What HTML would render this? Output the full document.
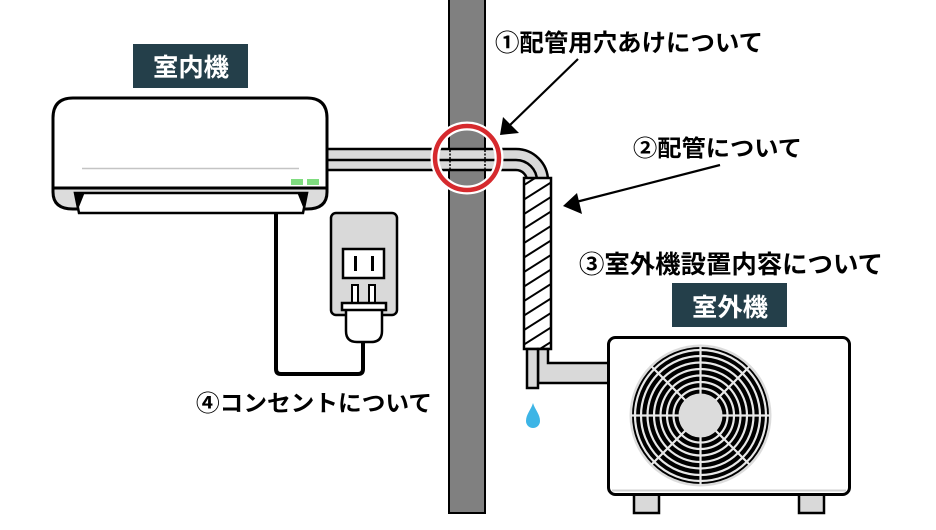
<!DOCTYPE html>
<html><head><meta charset="utf-8"><style>
html,body{margin:0;padding:0;background:#fff;width:936px;height:530px;overflow:hidden}
svg{display:block}
text{font-family:"Liberation Sans","Noto Sans CJK JP",sans-serif}
</style></head><body>
<svg width="936" height="530" viewBox="0 0 936 530" xmlns="http://www.w3.org/2000/svg">
<defs>
<clipPath id="ins"><rect x="524" y="178" width="27" height="171"/></clipPath>
</defs>
<rect width="936" height="530" fill="#fff"/>

<!-- wall -->
<rect x="449" y="-3" width="36" height="516" fill="#808080" stroke="#000" stroke-width="2"/>

<!-- pipes from indoor unit -->
<path d="M320,149 L516,149 A32,32 0 0 1 548,181 L548,185 L527,185 L527,181 A11,11 0 0 0 516,170 L320,170 Z" fill="#d9d9d9"/>
<path d="M320,149 L516,149 A32,32 0 0 1 548,181 L548,185" fill="none" stroke="#000" stroke-width="2.5"/>
<path d="M320,160 L516,160 A21,21 0 0 1 537,181 L537,185" fill="none" stroke="#000" stroke-width="2.5"/>
<path d="M320,170 L516,170 A11,11 0 0 1 527,181 L527,185" fill="none" stroke="#000" stroke-width="2.5"/>
<line x1="450" y1="150" x2="450" y2="169" stroke="#000" stroke-width="1.5" stroke-dasharray="2,1.5"/>
<line x1="485" y1="150" x2="485" y2="169" stroke="#000" stroke-width="1.5" stroke-dasharray="2,1.5"/>

<!-- red circle -->
<circle cx="467" cy="158" r="32" fill="none" stroke="#fff" stroke-width="9"/>
<circle cx="467" cy="158" r="32" fill="none" stroke="#d62a2e" stroke-width="4.5"/>

<!-- insulation -->
<rect x="524" y="178" width="27" height="171" fill="#fff"/>
<g clip-path="url(#ins)" stroke="#000" stroke-width="2">
<line x1="524" y1="185" x2="551" y2="168"/>
<line x1="524" y1="199.5" x2="551" y2="182.5"/>
<line x1="524" y1="214" x2="551" y2="197"/>
<line x1="524" y1="228.5" x2="551" y2="211.5"/>
<line x1="524" y1="243" x2="551" y2="226"/>
<line x1="524" y1="257.5" x2="551" y2="240.5"/>
<line x1="524" y1="272" x2="551" y2="255"/>
<line x1="524" y1="286.5" x2="551" y2="269.5"/>
<line x1="524" y1="301" x2="551" y2="284"/>
<line x1="524" y1="315.5" x2="551" y2="298.5"/>
<line x1="524" y1="330" x2="551" y2="313"/>
<line x1="524" y1="344.5" x2="551" y2="327.5"/>
<line x1="524" y1="359" x2="551" y2="342"/>
</g>
<rect x="524" y="178" width="27" height="171" fill="none" stroke="#000" stroke-width="2.5"/>

<!-- lower pipes -->
<path d="M538,349 L548,349 L548,363 L610,363 L610,383 L538,383 Z" fill="#d9d9d9" stroke="#000" stroke-width="2.5"/>
<rect x="527" y="349" width="11" height="39" fill="#d9d9d9" stroke="#000" stroke-width="2.5"/>

<!-- water drop -->
<path d="M533,403 C531,410 526,414 526,421 A7,7 0 0 0 540,421 C540,414 535,410 533,403 Z" fill="#3db5e6"/>

<!-- outdoor unit -->
<rect x="634" y="493" width="25" height="20" fill="#d9d9d9" stroke="#000" stroke-width="2.5"/>
<rect x="799" y="493" width="25" height="20" fill="#d9d9d9" stroke="#000" stroke-width="2.5"/>
<rect x="608.5" y="337.5" width="241" height="157" rx="7" fill="#fff" stroke="#000" stroke-width="3"/>
<line x1="612" y1="490.5" x2="846" y2="490.5" stroke="#d0d0d0" stroke-width="2"/>
<!-- fan -->
<circle cx="700.5" cy="415.5" r="71" fill="#dcdcdc"/>
<circle cx="700.5" cy="415.5" r="68.5" fill="#000"/>
<g fill="none" stroke="#e8e8e8" stroke-width="2.2">
<circle cx="700.5" cy="415.5" r="27"/>
<circle cx="700.5" cy="415.5" r="33.5"/>
<circle cx="700.5" cy="415.5" r="40"/>
<circle cx="700.5" cy="415.5" r="46.5"/>
<circle cx="700.5" cy="415.5" r="53"/>
<circle cx="700.5" cy="415.5" r="59.5"/>
<circle cx="700.5" cy="415.5" r="65.5"/>
</g>
<g stroke="#e8e8e8" stroke-width="2.2">
<line x1="631" y1="415.5" x2="770" y2="415.5"/>
<line x1="700.5" y1="346" x2="700.5" y2="485"/>
<line x1="651.4" y1="366.4" x2="749.6" y2="464.6"/>
<line x1="651.4" y1="464.6" x2="749.6" y2="366.4"/>
</g>
<circle cx="700.5" cy="415.5" r="22" fill="#dcdcdc"/>

<!-- indoor unit -->
<path d="M53,118 Q53,98 73,98 L307,98 Q327,98 327,118 L327,188 L53,188 Z" fill="#fff" stroke="#000" stroke-width="3"/>
<path d="M53,188 L327,188 L327,192 Q327,209 307,209 L73,209 Q53,209 53,192 Z" fill="#dcdcdc" stroke="#000" stroke-width="3"/>
<line x1="82" y1="168.5" x2="299" y2="168.5" stroke="#c4c4c4" stroke-width="1.5"/>
<rect x="291" y="179" width="12" height="6" fill="#7fdc7f"/>
<rect x="307" y="179" width="12" height="6" fill="#7fdc7f"/>
<polygon points="75,193 307,193 303,213 79,213" fill="#fff" stroke="#000" stroke-width="2.5"/>
<polygon points="74,192 85,192 79,207" fill="#000"/>
<polygon points="297,192 308,192 303,207" fill="#000"/>

<!-- cord -->
<path d="M276,212 L276,369 Q276,374 281,374 L358,374 Q363,374 363,369 L363,340" fill="none" stroke="#000" stroke-width="4"/>

<!-- outlet -->
<rect x="331" y="213" width="66" height="102" rx="5" fill="#d9d9d9" stroke="#000" stroke-width="2.5"/>
<rect x="343" y="249" width="41" height="29" fill="#fff" stroke="#000" stroke-width="2.5"/>
<rect x="354" y="256" width="3" height="15" fill="#000"/>
<rect x="371" y="256" width="3" height="15" fill="#000"/>
<rect x="352" y="285" width="6" height="19" fill="#fff" stroke="#000" stroke-width="2"/>
<rect x="369" y="285" width="6" height="19" fill="#fff" stroke="#000" stroke-width="2"/>
<path d="M346,309 L382,309 L382,331 Q382,342 371,342 L357,342 Q346,342 346,331 Z" fill="#fff" stroke="#000" stroke-width="2.5"/>
<rect x="342" y="303" width="44" height="7" fill="#fff" stroke="#000" stroke-width="2.5"/>

<!-- arrows -->
<line x1="578" y1="59" x2="510" y2="125" stroke="#000" stroke-width="2.2"/>
<polygon points="500,135 503,117 519,133" fill="#000"/>
<line x1="720" y1="165" x2="576" y2="202" stroke="#000" stroke-width="2.2"/>
<polygon points="563,206 577,193 582,214" fill="#000"/>

<!-- labels -->
<rect x="133" y="44" width="115" height="44" fill="#243f4a"/>
<text x="191" y="76" fill="#fff" font-size="25" font-weight="700" text-anchor="middle" textLength="76" lengthAdjust="spacingAndGlyphs">室内機</text>
<rect x="672" y="283" width="115" height="44" fill="#243f4a"/>
<text x="730" y="316" fill="#fff" font-size="25" font-weight="700" text-anchor="middle" textLength="76" lengthAdjust="spacingAndGlyphs">室外機</text>

<text x="495" y="51" fill="#000" font-size="24" font-weight="700" textLength="268" lengthAdjust="spacingAndGlyphs">①配管用穴あけについて</text>
<text x="633" y="156" fill="#000" font-size="23" font-weight="700" textLength="169" lengthAdjust="spacingAndGlyphs">②配管について</text>
<text x="579" y="273" fill="#000" font-size="25" font-weight="700" textLength="304" lengthAdjust="spacingAndGlyphs">③室外機設置内容について</text>
<text x="196" y="411" fill="#000" font-size="23" font-weight="700" textLength="236" lengthAdjust="spacingAndGlyphs">④コンセントについて</text>
</svg>
</body></html>
